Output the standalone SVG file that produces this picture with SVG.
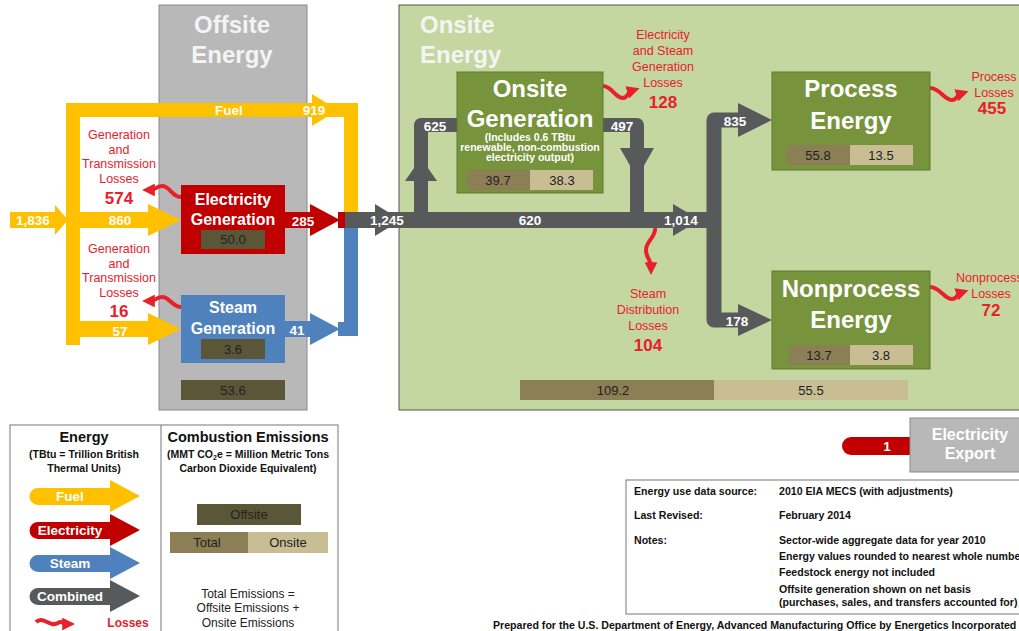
<svg xmlns="http://www.w3.org/2000/svg" width="1019" height="631" viewBox="0 0 1019 631">
<defs>
<style>
text{font-family:"Liberation Sans",Arial,sans-serif}
.w{fill:#fff;font-weight:bold;text-anchor:middle}
.fl{fill:#fff;font-weight:bold;font-size:13.5px;text-anchor:middle}
.big{fill:#fff;font-weight:bold;font-size:24px;text-anchor:middle}
.ttl{fill:#f4f4f4;font-weight:bold;font-size:24px}
.ls{fill:#e8202a;font-size:12.5px;text-anchor:middle}
.ln{fill:#e8202a;font-size:17px;font-weight:bold;text-anchor:middle}
.em{font-size:13px;fill:#222;text-anchor:middle}
.nt{font-size:10.6px;font-weight:bold;fill:#111}
.lg{font-size:10.5px;font-weight:bold;fill:#111;text-anchor:middle}
.sq{fill:none;stroke:#e8202a;stroke-width:4;marker-end:url(#rh)}
.dk{fill:#5c5638}
.tot{fill:#8c7f56}
.ons{fill:#c8bd93}
.gb{fill:#77933c;stroke:#5f7a2c;stroke-width:1}
</style>
<marker id="rh" viewBox="0 0 10 10" refX="3" refY="5" markerWidth="3.2" markerHeight="3.2" orient="auto"><path d="M0,0 L10,5 L0,10 z" fill="#e8202a"/></marker>
</defs>
<rect width="1019" height="631" fill="#fff"/>

<!-- regions -->
<g id="offsite-region">
<rect x="159" y="5" width="148" height="405" fill="#b8b8b8" stroke="#8a8a8a" stroke-width="1"/>
<text class="ttl" x="232" y="33" text-anchor="middle">Offsite</text>
<text class="ttl" x="232" y="63" text-anchor="middle">Energy</text>
<rect x="181" y="380" width="104" height="20" class="dk"/>
<text class="em" x="233" y="395">53.6</text>
</g>
<g id="onsite-region">
<rect x="399" y="5" width="625" height="405" fill="#c5d7a0" stroke="#555" stroke-width="1"/>
<text class="ttl" x="420" y="33">Onsite</text>
<text class="ttl" x="420" y="63">Energy</text>
<rect x="520" y="380" width="194" height="20" class="tot"/>
<rect x="714" y="380" width="194" height="20" class="ons"/>
<text class="em" x="613" y="395">109.2</text>
<text class="em" x="811" y="395">55.5</text>
</g>

<!-- connectors -->
<g id="connectors">
<path d="M73,345 V110 H351 V214" fill="none" stroke="#ffc000" stroke-width="14" stroke-linejoin="miter"/>
<polygon points="312,94 338,110 312,126" fill="#ffc000"/>
<path d="M10,212 H55 V205 L68,220 L55,235 V228 H10 z" fill="#ffc000"/>
<path d="M80,212 H148 V204 L181,220 L148,236 V228 H80 z" fill="#ffc000"/>
<path d="M80,321 H148 V313 L181,329 L148,345 V337 H80 z" fill="#ffc000"/>
<path d="M285,212 H310 V204 L340,220 L310,236 V228 H285 z" fill="#c00000"/>
<rect x="338" y="212" width="8" height="16" fill="#c00000"/>
<path d="M285,321 H310 V313 L340,329 L310,345 V337 H285 z" fill="#4f81bd"/>
<path d="M338,329 H351 V228" fill="none" stroke="#4f81bd" stroke-width="14"/>
<rect x="345" y="212" width="370" height="16" fill="#58595b"/>
<polygon points="375,204 401,220 375,236" fill="#58595b"/>
<polygon points="673,204 700,220 673,236" fill="#58595b"/>
<path d="M421,220 V125 H458" fill="none" stroke="#58595b" stroke-width="14" stroke-linejoin="round"/>
<polygon points="405,181 421,158 437,181" fill="#58595b"/>
<path d="M603,125 H637 V220" fill="none" stroke="#58595b" stroke-width="14" stroke-linejoin="round"/>
<polygon points="620,148 654,148 637,178" fill="#58595b"/>
<path d="M740,120 H714 V320 H740" fill="none" stroke="#58595b" stroke-width="15" stroke-linejoin="round"/>
<polygon points="738,103 772,120 738,137" fill="#58595b"/>
<polygon points="738,304 772,320 738,336" fill="#58595b"/>
<path class="sq" d="M181,197 C172,197 170,186 162,186 C156,186 155,190 151,190"/>
<path class="sq" d="M181,307 C172,307 170,297 162,297 C156,297 155,301 151,301"/>
<path class="sq" d="M603,86 C612,86 615,98 623,98 C628,98 628,92 631,91"/>
<path class="sq" d="M930,88 C940,88 944,100 952,100 C957,100 957,95 960,94"/>
<path class="sq" d="M930,287 C940,287 944,299 952,299 C957,299 957,294 960,293"/>
<path class="sq" d="M655,228 C656,237 646,241 646,250 C646,258 651,260 651,266"/>
<text class="fl" x="229" y="115">Fuel</text>
<text class="fl" x="314" y="115">919</text>
<text class="fl" x="33" y="225">1,836</text>
<text class="fl" x="120" y="225">860</text>
<text class="fl" x="120" y="336">57</text>
<text class="fl" x="303" y="226">285</text>
<text class="fl" x="297" y="335">41</text>
<text class="fl" x="387" y="225">1,245</text>
<text class="fl" x="530" y="225">620</text>
<text class="fl" x="681" y="225">1,014</text>
<text class="fl" x="435" y="131">625</text>
<text class="fl" x="622" y="131">497</text>
<text class="fl" x="735" y="126">835</text>
<text class="fl" x="737" y="326">178</text>
</g>

<!-- loss labels -->
<g id="loss-elec-gen">
<text class="ls" x="119" y="139">Generation</text>
<text class="ls" x="119" y="154">and</text>
<text class="ls" x="119" y="168">Transmission</text>
<text class="ls" x="119" y="183">Losses</text>
<text class="ln" x="119" y="204">574</text>
</g>
<g id="loss-steam-gen">
<text class="ls" x="119" y="253">Generation</text>
<text class="ls" x="119" y="268">and</text>
<text class="ls" x="119" y="282">Transmission</text>
<text class="ls" x="119" y="297">Losses</text>
<text class="ln" x="119" y="317">16</text>
</g>
<g id="loss-onsite-gen">
<text class="ls" x="663" y="39">Electricity</text>
<text class="ls" x="663" y="55">and Steam</text>
<text class="ls" x="663" y="71">Generation</text>
<text class="ls" x="663" y="87">Losses</text>
<text class="ln" x="663" y="108">128</text>
</g>
<g id="loss-process">
<text class="ls" x="994" y="81">Process</text>
<text class="ls" x="994" y="97">Losses</text>
<text class="ln" x="992" y="114">455</text>
</g>
<g id="loss-nonprocess">
<text class="ls" x="956" y="282" style="text-anchor:start">Nonprocess</text>
<text class="ls" x="991" y="298">Losses</text>
<text class="ln" x="991" y="316">72</text>
</g>
<g id="loss-steam-dist">
<text class="ls" x="648" y="298">Steam</text>
<text class="ls" x="648" y="314">Distribution</text>
<text class="ls" x="648" y="330">Losses</text>
<text class="ln" x="648" y="351">104</text>
</g>

<!-- nodes -->
<g id="electricity-generation">
<rect x="181" y="185" width="104" height="69" fill="#c00000"/>
<text class="w" x="233" y="205" font-size="16">Electricity</text>
<text class="w" x="233" y="225" font-size="16">Generation</text>
<rect x="201" y="230" width="64" height="19" class="dk"/>
<text class="em" x="233" y="244">50.0</text>
</g>
<g id="steam-generation">
<rect x="181" y="295" width="104" height="68" fill="#4f81bd"/>
<text class="w" x="233" y="313" font-size="16">Steam</text>
<text class="w" x="233" y="334" font-size="16">Generation</text>
<rect x="201" y="339" width="64" height="20" class="dk"/>
<text class="em" x="233" y="354">3.6</text>
</g>
<g id="onsite-generation">
<rect x="457" y="72" width="146" height="121" class="gb"/>
<text class="big" x="530" y="97">Onsite</text>
<text class="big" x="530" y="127">Generation</text>
<text class="w" x="530" y="141" font-size="10.5">(Includes 0.6 TBtu</text>
<text class="w" x="530" y="151" font-size="10.5">renewable, non-combustion</text>
<text class="w" x="530" y="161" font-size="10.5">electricity output)</text>
<rect x="467" y="170" width="63" height="20" class="tot"/>
<rect x="530" y="170" width="63" height="20" class="ons"/>
<text class="em" x="498" y="185">39.7</text>
<text class="em" x="562" y="185">38.3</text>
</g>
<g id="process-energy">
<rect x="772" y="72" width="158" height="98" class="gb"/>
<text class="big" x="851" y="97">Process</text>
<text class="big" x="851" y="129">Energy</text>
<rect x="787" y="145" width="63" height="20" class="tot"/>
<rect x="850" y="145" width="63" height="20" class="ons"/>
<text class="em" x="818" y="160">55.8</text>
<text class="em" x="881" y="160">13.5</text>
</g>
<g id="nonprocess-energy">
<rect x="772" y="271" width="158" height="98" class="gb"/>
<text class="big" x="851" y="297">Nonprocess</text>
<text class="big" x="851" y="328">Energy</text>
<rect x="789" y="345" width="61" height="20" class="tot"/>
<rect x="850" y="345" width="63" height="20" class="ons"/>
<text class="em" x="819" y="360">13.7</text>
<text class="em" x="881" y="360">3.8</text>
</g>
<g id="electricity-export">
<path d="M910,437 H851 A8.5,8.5 0 0 0 851,455 H910 z" fill="#c00000"/>
<text class="fl" x="887" y="451">1</text>
<rect x="910" y="418" width="115" height="54" fill="#b8b8b8" stroke="#8a8a8a"/>
<text class="w" x="970" y="440" font-size="16">Electricity</text>
<text class="w" x="970" y="459" font-size="16">Export</text>
</g>

<!-- legend -->
<g id="legend">
<rect x="10" y="425" width="328" height="210" fill="#fff" stroke="#777"/>
<line x1="161" y1="425" x2="161" y2="631" stroke="#777"/>
<text x="84" y="442" font-size="14.5" font-weight="bold" text-anchor="middle" fill="#111">Energy</text>
<text class="lg" x="84" y="458">(TBtu = Trillion British</text>
<text class="lg" x="84" y="472">Thermal Units)</text>
<path d="M38,488 H110 V480 L140,496 L110,512 V505 H38 A8.5,8.5 0 0 1 38,488 z" fill="#ffc000"/>
<text class="fl" x="70" y="501" font-size="13">Fuel</text>
<path d="M38,522 H110 V514 L140,530 L110,546 V539 H38 A8.5,8.5 0 0 1 38,522 z" fill="#c00000"/>
<text class="fl" x="70" y="535">Electricity</text>
<path d="M38,555 H110 V547 L140,563 L110,579 V572 H38 A8.5,8.5 0 0 1 38,555 z" fill="#4f81bd"/>
<text class="fl" x="70" y="568">Steam</text>
<path d="M38,588 H110 V580 L140,596 L110,612 V605 H38 A8.5,8.5 0 0 1 38,588 z" fill="#58595b"/>
<text class="fl" x="70" y="601">Combined</text>
<path class="sq" d="M36,622 C43,615 50,628 58,623 C62,620 63,624 66,624"/>
<text x="128" y="627" font-size="12" font-weight="bold" fill="#e8202a" text-anchor="middle">Losses</text>
<text x="248" y="442" font-size="14.5" font-weight="bold" text-anchor="middle" fill="#111">Combustion Emissions</text>
<text class="lg" x="248" y="458">(MMT CO<tspan font-size="7" dy="2">2</tspan><tspan dy="-2">e = Million Metric Tons</tspan></text>
<text class="lg" x="248" y="472">Carbon Dioxide Equivalent)</text>
<rect x="197" y="504" width="104" height="21" class="dk"/>
<text class="em" x="249" y="519">Offsite</text>
<rect x="170" y="532" width="78" height="21" class="tot"/>
<rect x="248" y="532" width="80" height="21" class="ons"/>
<text class="em" x="207" y="547">Total</text>
<text class="em" x="288" y="547">Onsite</text>
<text x="248" y="598" font-size="12" fill="#222" text-anchor="middle">Total Emissions =</text>
<text x="248" y="612" font-size="12" fill="#222" text-anchor="middle">Offsite Emissions +</text>
<text x="248" y="627" font-size="12" fill="#222" text-anchor="middle">Onsite Emissions</text>
</g>

<!-- notes -->
<g id="notes">
<rect x="626" y="480" width="400" height="134" fill="#fff" stroke="#777"/>
<text class="nt" x="634" y="495">Energy use data source:</text>
<text class="nt" x="779" y="495">2010 EIA MECS (with adjustments)</text>
<text class="nt" x="634" y="519">Last Revised:</text>
<text class="nt" x="779" y="519">February 2014</text>
<text class="nt" x="634" y="544">Notes:</text>
<text class="nt" x="779" y="544">Sector-wide aggregate data for year 2010</text>
<text class="nt" x="779" y="560">Energy values rounded to nearest whole number</text>
<text class="nt" x="779" y="576">Feedstock energy not included</text>
<text class="nt" x="779" y="593">Offsite generation shown on net basis</text>
<text class="nt" x="779" y="606">(purchases, sales, and transfers accounted for)</text>
<text class="nt" x="493" y="629">Prepared for the U.S. Department of Energy, Advanced Manufacturing Office by Energetics Incorporated</text>
</g>
</svg>
